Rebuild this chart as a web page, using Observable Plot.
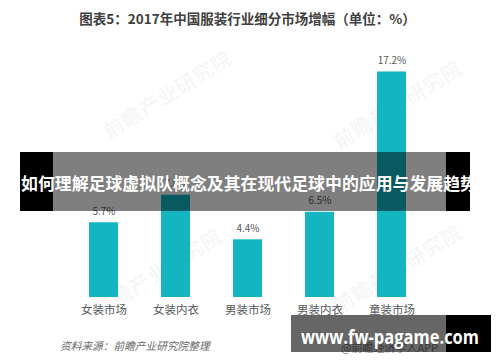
<!DOCTYPE html>
<html>
<head>
<meta charset="utf-8">
<script src="https://cdn.jsdelivr.net/npm/d3@7"></script>
<script src="https://cdn.jsdelivr.net/npm/@observablehq/plot@0.6"></script>
<style>
  html, body { margin: 0; padding: 0; background: #fff; }
  #wrap { position: relative; width: 500px; height: 362px; overflow: hidden; background: #fff;
          font-family: "Noto Sans CJK SC", "Noto Sans", sans-serif; }
  .abs { position: absolute; white-space: nowrap; }
  #title { left: 0; width: 495px; top: 8px; text-align: center; font-size: 13.5px; font-weight: bold; color: #404040; line-height: 20px; }
  #chart { position: absolute; left: 0; top: 40px; }
  .wm { position: absolute; white-space: nowrap; color: rgba(120,120,120,0.07); font-size: 20px; font-weight: bold;
        transform-origin: left center; transform: rotate(-32deg); letter-spacing: 1px; }
  #source { left: 60px; top: 338px; font-size: 10.7px; font-style: italic; color: #6a6a6a; line-height: 16px; }
  #app { left: 341px; top: 339px; font-size: 11px; color: #8a8a8a; line-height: 16px; }
  .fit { display: inline-block; transform-origin: left center; }
</style>
</head>
<body>
<div id="wrap">
  <div class="wm" style="left:105px; top:118px;">前瞻产业研究院</div>
  <div class="wm" style="left:335px; top:128px;">前瞻产业研究院</div>
  <div class="wm" style="left:95px; top:296px;">前瞻产业研究院</div>
  <div class="wm" style="left:335px; top:292px;">前瞻产业研究院</div>
  <div id="title" class="abs">图表5：2017年中国服装行业细分市场增幅（单位：%）</div>
  <div id="chart"></div>
  <div id="source" class="abs">资料来源：前瞻产业研究院整理</div>
  <div id="app" class="abs">@前瞻经济学人APP</div>

  <!-- banner overlay -->
  <div class="abs" style="left:20px; top:152px; width:33px; height:59px; background:#000;"></div>
  <div class="abs" style="left:53px; top:152px; width:393px; height:59px; background:rgba(0,0,0,0.5);"></div>
  <div class="abs" style="left:446px; top:152px; width:24px; height:59px; background:#000;"></div>
  <div class="abs" style="left:21px; top:171px; height:24px; line-height:24px; color:#fff; font-weight:bold; font-size:17px;">
    <span class="fit" id="bannerText" data-w="456">如何理解足球虚拟队概念及其在现代足球中的应用与发展趋势</span>
  </div>

  <!-- bottom-right overlay -->
  <div class="abs" style="left:291px; top:315px; width:155px; height:37px; background:rgba(0,0,0,0.6);"></div>
  <div class="abs" style="left:446px; top:315px; width:45px; height:37px; background:#000;"></div>
  <div class="abs" style="left:301px; top:324px; height:26px; line-height:26px; color:#fff; font-weight:bold; font-size:20px; font-family:'Open Sans','DejaVu Sans',sans-serif;">
    <span class="fit" id="urlText" data-w="178">www.fw-pagame.com</span>
  </div>
</div>
<script>
const categories = ["女装市场", "女装内衣", "男装市场", "男装内衣", "童装市场"];
const growth = [5.7, 7.8, 4.4, 6.5, 17.2];
const valueLabels = ["5.7%", "7.8%", "4.4%", "6.5%", "17.2%"];

const data = categories.map((c, i) => ({ category: c, value: growth[i], label: valueLabels[i] }));

const chart = Plot.plot({
  width: 500,
  height: 285,
  marginLeft: 88.7,
  marginRight: 93.3,
  marginTop: 21,
  marginBottom: 28,
  style: { fontFamily: '"Noto Sans CJK SC", "Noto Sans", sans-serif', background: "transparent", overflow: "visible" },
  x: { domain: categories, paddingInner: 0.6, paddingOuter: 0, label: null },
  y: { domain: [0, 18], axis: null },
  marks: [
    Plot.barY(data, { x: "category", y: "value", fill: "#12b5c0" }),
    Plot.text(data, { x: "category", y: "value", text: "label", dy: -11, fontSize: 10, fill: "#595959" }),
    Plot.axisX({ tickSize: 0, tickPadding: 8, fontSize: 11.5, color: "#595959", label: null })
  ]
});
document.getElementById("chart").appendChild(chart);

document.querySelectorAll(".fit").forEach(el => {
  const target = +el.dataset.w;
  const w = el.getBoundingClientRect().width;
  if (w > 0) el.style.transform = `scaleX(${target / w})`;
});
</script>
</body>
</html>
